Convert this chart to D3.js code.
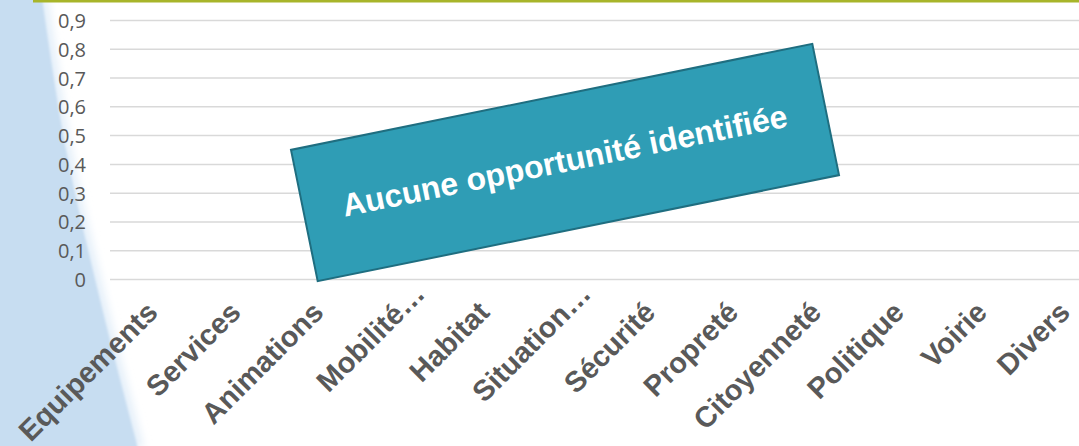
<!DOCTYPE html>
<html>
<head>
<meta charset="utf-8">
<script src="https://cdn.jsdelivr.net/npm/d3@7"></script>
<style>
  html, body { margin: 0; padding: 0; background: #fff; }
  svg { display: block; }
</style>
</head>
<body>
<svg id="chart" width="1079" height="446"></svg>
<script>
// ---- data ----
const categories = ["Equipements", "Services", "Animations", "Mobilité…", "Habitat", "Situation…",
                    "Sécurité", "Propreté", "Citoyenneté", "Politique", "Voirie", "Divers"];
const values = [0, 0, 0, 0, 0, 0, 0, 0, 0, 0, 0, 0];
const yTicks = [0, 0.1, 0.2, 0.3, 0.4, 0.5, 0.6, 0.7, 0.8, 0.9];
const yTickLabels = ["0", "0,1", "0,2", "0,3", "0,4", "0,5", "0,6", "0,7", "0,8", "0,9"];
const annotation = "Aucune opportunité identifiée";

// ---- layout ----
const W = 1079, H = 446;
const plot = { left: 105.5, right: 1125.5, top: 20.5, bottom: 279.5, gridLeft: 110 };
const svg = d3.select("#chart");
const defs = svg.append("defs");
defs.append("filter").attr("id", "soft").attr("x", "-20%").attr("width", "140%")
  .append("feGaussianBlur").attr("stdDeviation", 1.2);
defs.append("filter").attr("id", "softer").attr("x", "-50%").attr("width", "200%")
  .append("feGaussianBlur").attr("stdDeviation", 4);

// decorative slide background (light blue wedge on the left)
const edge = [[42, -2], [66, 150], [100, 300], [138, 448]];
const edgeLine = d3.line().curve(d3.curveCatmullRom);
const wedge = (dx) => {
  const pts = edge.map(p => [p[0] + dx, p[1]]);
  return "M-5,-2 L" + edgeLine(pts).slice(1) + " L-5,448 Z";
};
svg.append("path").attr("d", wedge(6)).attr("fill", "#e4eff9").attr("filter", "url(#softer)");
svg.append("path").attr("d", wedge(0)).attr("fill", "#c7ddf1").attr("filter", "url(#soft)");

// top rule
svg.append("rect").attr("x", 33).attr("y", 0).attr("width", W - 33).attr("height", 2.5)
  .attr("fill", "#a8b52a");

// ---- scales ----
const x = d3.scaleBand().domain(categories).range([plot.left, plot.right]).padding(0.3);
const y = d3.scaleLinear().domain([0, 0.9]).range([plot.bottom, plot.top]);

// gridlines
svg.append("g").selectAll("line").data(yTicks).join("line")
  .attr("x1", plot.gridLeft).attr("x2", W)
  .attr("y1", d => y(d)).attr("y2", d => y(d))
  .attr("stroke", "#d9d9d9").attr("stroke-width", 1.5);

// y axis labels
const yAxis = d3.axisLeft(y).tickValues(yTicks).tickSize(0).tickPadding(0)
  .tickFormat((d, i) => yTickLabels[i]);
const gy = svg.append("g").attr("transform", "translate(86,0)").call(yAxis);
gy.select(".domain").remove();
gy.selectAll("text")
  .attr("font-family", "'Open Sans', 'Liberation Sans', sans-serif")
  .attr("font-size", 20).attr("fill", "#595959").attr("dy", "0.35em");

// bars (all zero)
svg.append("g").selectAll("rect").data(values).join("rect")
  .attr("x", (d, i) => x(categories[i]))
  .attr("width", x.bandwidth())
  .attr("y", d => y(d))
  .attr("height", d => y(0) - y(d))
  .attr("fill", "#2e9db5");

// x axis labels
const xAxis = d3.axisBottom(x).tickSize(0).tickPadding(0);
const gx = svg.append("g").attr("transform", "translate(0,314)").call(xAxis);
gx.select(".domain").remove();
gx.selectAll("text")
  .attr("font-family", "'Liberation Sans', Arial, sans-serif")
  .attr("font-weight", "bold").attr("font-size", 29).attr("fill", "#595959")
  .attr("text-anchor", "end").attr("y", 0).attr("dy", 0)
  .attr("transform", d => {
    const shift = d.endsWith("…") ? 26 : 0;
    return `translate(${shift * Math.SQRT1_2},${-shift * Math.SQRT1_2}) rotate(-45)`;
  });

// annotation banner
const banner = svg.append("g").attr("transform", "translate(565,162.5) rotate(-11.5)");
banner.append("rect").attr("x", -266).attr("y", -67).attr("width", 532).attr("height", 134)
  .attr("fill", "#2f9db5").attr("stroke", "#1f6e80").attr("stroke-width", 2);
banner.append("text").text(annotation)
  .attr("text-anchor", "middle").attr("dy", "0.35em").attr("y", -2)
  .attr("font-family", "'Liberation Sans', Arial, sans-serif")
  .attr("font-weight", "bold").attr("font-size", 32).attr("fill", "#ffffff");
</script>
</body>
</html>
